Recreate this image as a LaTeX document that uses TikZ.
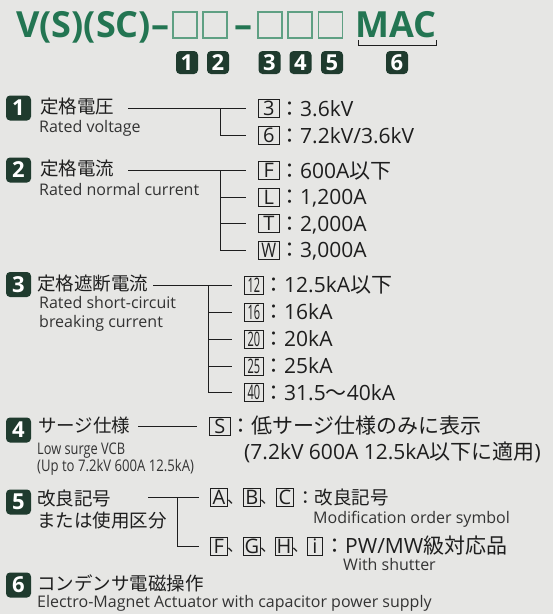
\documentclass[tikz,border=0pt]{standalone}
\usepackage{fontspec}
\setmainfont{Open Sans}
\newfontfamily\jp{Noto Sans CJK JP}
\usepackage{graphicx}
\usetikzlibrary{calc}
\definecolor{bg}{HTML}{E6E6E4}
\definecolor{ttlc}{HTML}{237552}
\definecolor{tbx}{HTML}{5FA083}
\definecolor{bdg}{HTML}{1F3B2E}
\definecolor{ink}{HTML}{1E1E1E}
\definecolor{ink2}{HTML}{333333}
\newcommand\fs[1]{\fontsize{#1}{#1}\selectfont}
\newcommand\cnd[1]{\scalebox{0.55}[1]{#1}}
\begin{document}
\begin{tikzpicture}[x=1pt,y=-1pt,
  conn/.style={draw=ink, line width=1pt},
  optbox/.style={draw=ink, line width=0.8pt, minimum width=21pt, minimum height=18pt, inner sep=0pt, anchor=west, font=\fs{20}, text=ink},
  sbox/.style={optbox, minimum width=17pt},
  opt/.style={anchor=base west, inner sep=0pt, font=\fs{21}, text=ink},
  sep/.style={anchor=base west, inner sep=0pt, font=\jp\fs{16}, text=ink},
  head/.style={anchor=base west, inner sep=0pt, font=\jp\fs{18.5}, text=ink},
  eng/.style={anchor=base west, inner sep=0pt, font=\fs{16}, text=ink2},
  badge/.style={fill=bdg, rounded corners=4pt, minimum width=25pt, minimum height=25pt, inner sep=0pt, text=white, font=\bfseries\fs{22}},
  tbadge/.style={badge, minimum width=22pt, minimum height=23pt},
  tbox/.style={draw=tbx, line width=1.3pt, minimum width=24pt, minimum height=26pt, inner sep=0pt},
  ttl/.style={anchor=base west, inner sep=0pt, font=\bfseries\fs{36}, text=ttlc}
]
\fill[bg] (0,0) rectangle (553,614);
\useasboundingbox (0,0) rectangle (553,614);

% ---- title row
\node[ttl] (ttl) at (16,37.5) {V(S)(SC)–};
\node[tbox] (tb1) at (185,25) {};
\node[tbox] (tb2) at (215,25) {};
\node[ttl] (dsh) at (234,37.5) {–};
\node[tbox] (tb3) at (270,25) {};
\node[tbox] (tb4) at (300,25) {};
\node[tbox] (tb5) at (330.5,25) {};
\node[ttl] (mac) at (355,37.5) {MAC};
\draw[draw=ink, line width=1pt] (358,40) -- (358,45) -- (436,45) -- (436,40);
\node[tbadge] (n1) at (187,62.5) {1};
\node[tbadge] (n2) at (218,62.5) {2};
\node[tbadge] (n3) at (269.5,62.5) {3};
\node[tbadge] (n4) at (300.5,62.5) {4};
\node[tbadge] (n5) at (332,62.5) {5};
\node[tbadge] (n6) at (397,62.5) {6};

% ---- section 1
\node[badge] (s1) at (18.5,108) {1};
\node[head] (t1) at (40,113) {定格電圧};
\node[eng] (e1) at (39,132.8) {Rated voltage};
\node[optbox] (b1a) at (258,108.5) {3};
\node[opt] (o1a) at (279,116) {{\jp ：}3.6kV};
\node[optbox] (b1b) at (258,135.5) {6};
\node[opt] (o1b) at (279,143) {{\jp ：}7.2kV/3.6kV};
\coordinate (a1) at (128,108.5);
\coordinate (j1) at (220,108.5);
\draw[conn, shorten >=12pt] (a1) -- (b1a.west);
\draw[conn, shorten >=12pt] (j1) |- (b1b.west);

% ---- section 2
\node[badge] (s2) at (18.5,170) {2};
\node[head] (t2) at (40,175) {定格電流};
\node[eng] (e2) at (39,195.8) {Rated normal current};
\node[optbox] (b2a) at (258,170.5) {F};
\node[opt] (o2a) at (279,178) {{\jp ：}600A{\jp 以下}};
\node[optbox] (b2b) at (258,197) {L};
\node[opt] (o2b) at (279,204.5) {{\jp ：}1,200A};
\node[optbox] (b2c) at (258,223.5) {T};
\node[opt] (o2c) at (279,231) {{\jp ：}2,000A};
\node[optbox] (b2d) at (258,250) {\scalebox{0.8}[1]{W}};
\node[opt] (o2d) at (279,257.5) {{\jp ：}3,000A};
\coordinate (a2) at (128,170.5);
\coordinate (j2) at (220,170.5);
\draw[conn, shorten >=12pt] (a2) -- (b2a.west);
\draw[conn, shorten >=12pt] (j2) |- (b2b.west);
\draw[conn, shorten >=12pt] (j2) |- (b2c.west);
\draw[conn, shorten >=12pt] (j2) |- (b2d.west);

% ---- section 3
\node[badge] (s3) at (18.5,284.5) {3};
\node[head] (t3) at (37,290) {定格遮断電流};
\node[eng] (e3a) at (39,308.8) {Rated short-circuit};
\node[eng] (e3b) at (39,327.8) {breaking current};
\node[optbox, minimum width=19pt] (b3a) at (244,285) {\cnd{12}};
\node[opt] (o3a) at (263,292.6) {{\jp ：}12.5kA{\jp 以下}};
\node[optbox, minimum width=19pt] (b3b) at (244,312) {\cnd{16}};
\node[opt] (o3b) at (263,319.6) {{\jp ：}16kA};
\node[optbox, minimum width=19pt] (b3c) at (244,339) {\cnd{20}};
\node[opt] (o3c) at (263,346.6) {{\jp ：}20kA};
\node[optbox, minimum width=19pt] (b3d) at (244,366) {\cnd{25}};
\node[opt] (o3d) at (263,373.6) {{\jp ：}25kA};
\node[optbox, minimum width=19pt] (b3e) at (244,392.5) {\cnd{40}};
\node[opt] (o3e) at (263,400) {{\jp ：}31.5{\jp ～}40kA};
\coordinate (a3) at (153,285);
\coordinate (j3) at (208,285);
\draw[conn, shorten >=12pt] (a3) -- (b3a.west);
\draw[conn, shorten >=12pt] (j3) |- (b3b.west);
\draw[conn, shorten >=12pt] (j3) |- (b3c.west);
\draw[conn, shorten >=12pt] (j3) |- (b3d.west);
\draw[conn, shorten >=12pt] (j3) |- (b3e.west);

% ---- section 4
\node[badge] (s4) at (18.5,430) {4};
\node[head] (t4) at (38,432) {サージ仕様};
\node[eng] (e4a) at (37,454.8) {\scalebox{0.8}[1]{Low surge VCB}};
\node[eng] (e4b) at (37,471.8) {\scalebox{0.82}[1]{(Up to 7.2kV 600A 12.5kA)}};
\node[optbox] (b4a) at (209,426) {S};
\node[opt] (o4a) at (230,433.6) {{\jp ：低サージ仕様のみに表示}};
\node[opt] (o4b) at (244,459.6) {(7.2kV 600A 12.5kA{\jp 以下に適用})};
\coordinate (a4) at (138,426);
\draw[conn, shorten >=12pt] (a4) -- (b4a.west);

% ---- section 5
\node[badge] (s5) at (18.5,502) {5};
\node[head] (t5a) at (37,505.5) {改良記号};
\node[head] (t5b) at (37,527) {または使用区分};
\node[sbox] (b5a) at (210,497.5) {A};
\node[sep] at (227,503) {、};
\node[sbox] (b5b) at (243,497.5) {B};
\node[sep] at (260,503) {、};
\node[sbox] (b5c) at (276,497.5) {C};
\node[head] (o5a) at (296,504.5) {：改良記号};
\node[eng] (e5a) at (313,523.3) {Modification order symbol};
\node[sbox] (b5e) at (210,546) {F};
\node[sep] at (227,551.5) {、};
\node[sbox] (b5f) at (243,546) {G};
\node[sep] at (260,551.5) {、};
\node[sbox] (b5g) at (275,546) {H};
\node[sep] at (292,551.5) {、};
\node[sbox, minimum width=15pt] (b5h) at (307,546) {i};
\node[opt] (o5b) at (324,553.6) {{\jp ：}PW/MW{\jp 級対応品}};
\node[eng] (e5b) at (343,570.5) {With shutter};
\coordinate (a5) at (148,497.5);
\coordinate (j5) at (177,497.5);
\draw[conn, shorten >=11pt] (a5) -- (b5a.west);
\draw[conn, shorten >=11pt] (j5) |- (b5e.west);

% ---- section 6
\node[badge] (s6) at (18.5,585) {6};
\node[head] (t6) at (37,590) {コンデンサ電磁操作};
\node[eng] (e6) at (37,607.8) {Electro-Magnet Actuator with capacitor power supply};
\end{tikzpicture}
\end{document}
